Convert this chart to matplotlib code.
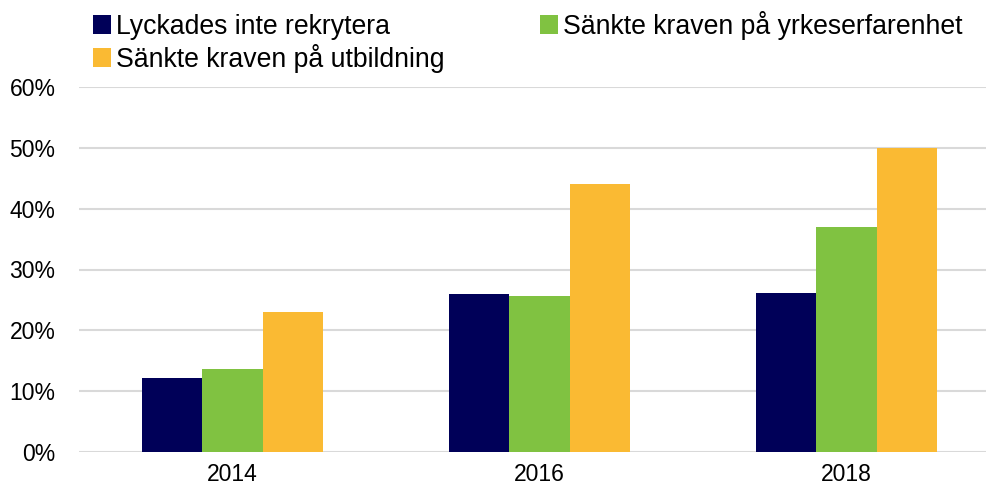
import matplotlib
matplotlib.use("Agg")
import matplotlib.pyplot as plt
import numpy as np
from matplotlib.ticker import PercentFormatter

plt.rcParams['font.family'] = ['Liberation Sans', 'DejaVu Sans']

years = ["2014", "2016", "2018"]
series_names = ["Lyckades inte rekrytera", "Sänkte kraven på yrkeserfarenhet", "Sänkte kraven på utbildning"]
lyckades = [12.2, 26.0, 26.1]
yrkes = [13.7, 25.7, 37.0]
utbildning = [23.0, 44.0, 50.0]
colors = ["#000058", "#80C241", "#FABA33"]
yticks = [0, 10, 20, 30, 40, 50, 60]

W, H = 987, 491
fig = plt.figure(figsize=(W / 100, H / 100), dpi=100)
left, right = 79, 987
bottom, top = 452, 87
ax = fig.add_axes([left / W, (H - bottom) / H, (right - left) / W, (bottom - top) / H])

x = np.arange(len(years))
bw = 0.196
bars = []
for i, (vals, c, name) in enumerate(zip([lyckades, yrkes, utbildning], colors, series_names)):
    b = ax.bar(x + (i - 1) * bw, vals, width=bw, color=c, label=name, zorder=3)
    bars.append(b)

span = (right - left) / 307.0
ax.set_xlim(-0.5, -0.5 + span)
ax.set_ylim(0, 60)
ax.set_yticks(yticks)
ax.yaxis.set_major_formatter(PercentFormatter(decimals=0))
ax.set_xticks(x)
ax.set_xticklabels(years)
ax.tick_params(axis='both', length=0, labelsize=16.5, colors='black')
ax.tick_params(axis='y', pad=17)
ax.tick_params(axis='x', pad=8)
ax.grid(axis='y', color='#D9D9D9', linewidth=1.5, zorder=0)
for s in ax.spines.values():
    s.set_visible(False)

handles = [bars[0], bars[2], bars[1]]
labels = [series_names[0], series_names[2], series_names[1]]
leg = fig.legend(handles, labels, ncol=2, loc='upper left',
                 bbox_to_anchor=(93 / W, 1 - 11 / H), frameon=False,
                 fontsize=19.2, handlelength=0.68, handleheight=0.68,
                 handletextpad=0.2, columnspacing=3.55, labelspacing=0.15,
                 borderpad=0, borderaxespad=0)

fig.savefig("out.png", dpi=100)
